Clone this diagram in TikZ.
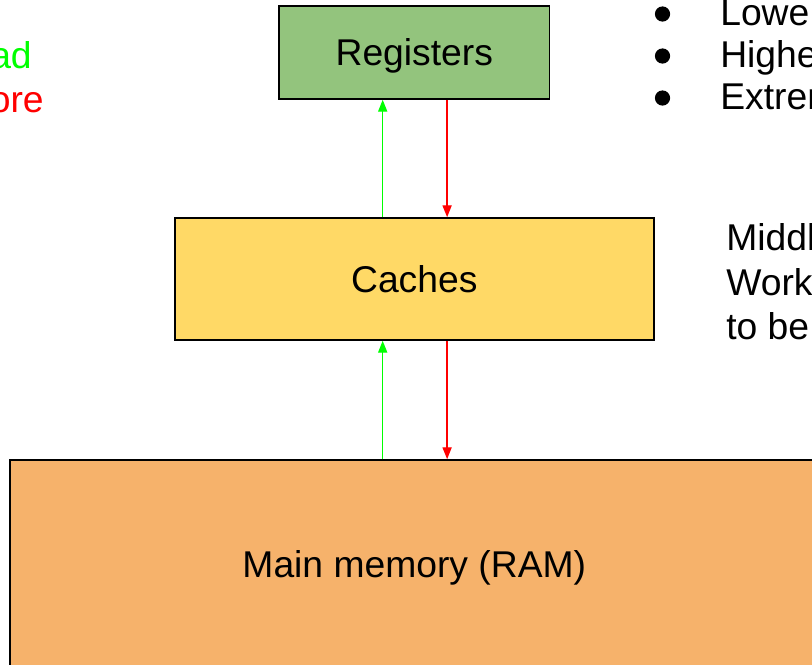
\documentclass[tikz,border=0pt]{standalone}
\usepackage{fontspec}
\setmainfont{Liberation Sans}
\usepackage{tikz}
\usetikzlibrary{arrows.meta}

\definecolor{regfill}{HTML}{93C47D}
\definecolor{cachefill}{HTML}{FFD966}
\definecolor{ramfill}{HTML}{F6B26B}
\definecolor{loadgreen}{HTML}{00FF00}
\definecolor{storered}{HTML}{FF0000}

\begin{document}
\begin{tikzpicture}[x=0.025cm,y=-0.025cm,
  level/.style={draw=black, line width=1.1pt, inner sep=0pt, text height=19pt, text depth=0pt, font=\fontsize{26.5}{31}\selectfont},
  txt/.style={inner sep=0pt, font=\fontsize{26.5}{31}\selectfont},
  dot/.style={circle, fill=black, inner sep=0pt, minimum size=0.38cm},
  load/.style={draw=loadgreen, line width=1pt, -{Triangle[length=8.5pt,width=6.5pt]}},
  store/.style={draw=storered, line width=1pt, -{Triangle[length=8.5pt,width=6.5pt]}}]
\useasboundingbox (0,0) rectangle (812,665);
\clip (0,0) rectangle (812,665);

\coordinate (reg_c) at (414.3,52.5);
\coordinate (cache_c) at (414.3,279);
\coordinate (ram_c) at (414.3,564);

\node[level, fill=regfill, minimum width=6.75cm, minimum height=2.325cm] (reg) at (reg_c) {Registers};
\node[level, fill=cachefill, minimum width=11.975cm, minimum height=3.05cm] (cache) at (cache_c) {Caches};
\node[level, fill=ramfill, minimum width=20.2cm, minimum height=5.2cm] (ram) at (ram_c) {Main memory (RAM)};

% load goes up, store goes down
\draw[load] ([xshift=-0.79cm]cache.north) -- ([xshift=-0.79cm]reg.south);
\draw[store] ([xshift=0.82cm]reg.south) -- ([xshift=0.82cm]cache.north);
\draw[load] ([xshift=-0.79cm]ram.north) -- ([xshift=-0.79cm]cache.south);
\draw[store] ([xshift=0.82cm]cache.south) -- ([xshift=0.82cm]ram.north);

\node[txt, anchor=base east, text=loadgreen] (load_lbl) at (32,68) {ad};
\node[txt, anchor=base east, text=storered] (store_lbl) at (44,112) {ore};

\node[dot] (b_1) at (662.5,14) {};
\node[dot] (b_2) at (662.5,56) {};
\node[dot] (b_3) at (662.5,98) {};
\node[txt, anchor=base west] (reg_1) at (720,25) {Lowe};
\node[txt, anchor=base west] (reg_2) at (720,67) {Highe};
\node[txt, anchor=base west] (reg_3) at (720,109) {Extrem};

\node[txt, anchor=base west] (cache_1) at (726,250) {Middl};
\node[txt, anchor=base west] (cache_2) at (726,295) {Work};
\node[txt, anchor=base west] (cache_3) at (726,339) {to be};

\end{tikzpicture}
\end{document}
